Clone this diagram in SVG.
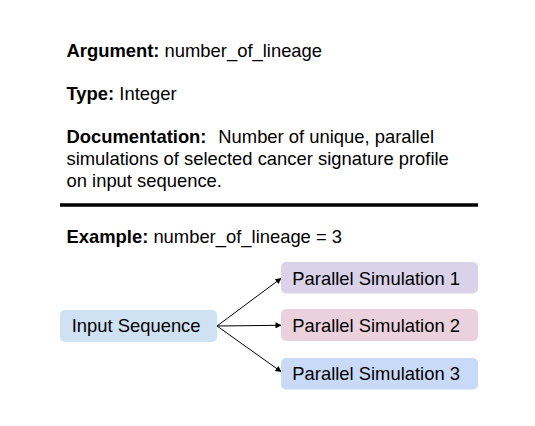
<svg xmlns="http://www.w3.org/2000/svg" width="535" height="426" viewBox="0 0 535 426">
<style>
text{font-family:"Liberation Sans",Arial,sans-serif;font-size:18.4px;fill:#000}
.b{font-weight:bold}
.node rect{stroke:none}
.conn line{stroke:#000;stroke-width:1;marker-end:url(#ah)}
</style>
<defs>
<marker id="ah" viewBox="0 0 10 10" refX="10" refY="5" markerWidth="8" markerHeight="6" markerUnits="userSpaceOnUse" orient="auto">
<path d="M0,0 L10,5 L0,10 z" fill="#000"/>
</marker>
</defs>
<rect width="535" height="426" fill="#fff"/>
<g id="doc">
<text x="66.5" y="56.7"><tspan class="b">Argument:</tspan> number_of_lineage</text>
<text x="66.5" y="100"><tspan class="b">Type:</tspan> Integer</text>
<text x="66.5" y="143.3"><tspan class="b">Documentation:</tspan><tspan x="218.3">Number of unique, parallel</tspan></text>
<text x="66.5" y="165">simulations of selected cancer signature profile</text>
<text x="66.5" y="186.7">on input sequence.</text>
<line x1="60" y1="205" x2="478" y2="205" stroke="#000" stroke-width="3.5"/>
<text x="66.5" y="242.7"><tspan class="b">Example:</tspan> number_of_lineage = 3</text>
</g>
<g class="conn" id="connectors">
<line x1="217" y1="326" x2="281.5" y2="278"/>
<line x1="217" y1="326" x2="281.5" y2="325.3"/>
<line x1="217" y1="326" x2="281.5" y2="372"/>
</g>
<g class="node" id="input">
<rect x="60" y="310" width="157" height="32" rx="5" fill="#cfe2f3"/>
<text x="71.7" y="331.7">Input Sequence</text>
</g>
<g class="node" id="sim1">
<rect x="281" y="262" width="197" height="31.5" rx="5" fill="#d9d2e9"/>
<text x="292.3" y="284.5">Parallel Simulation 1</text>
</g>
<g class="node" id="sim2">
<rect x="281" y="309" width="197" height="32" rx="5" fill="#ead1dc"/>
<text x="292.3" y="331.7">Parallel Simulation 2</text>
</g>
<g class="node" id="sim3">
<rect x="281" y="358" width="197" height="31.5" rx="5" fill="#c9daf8"/>
<text x="292.3" y="380.3">Parallel Simulation 3</text>
</g>
</svg>
